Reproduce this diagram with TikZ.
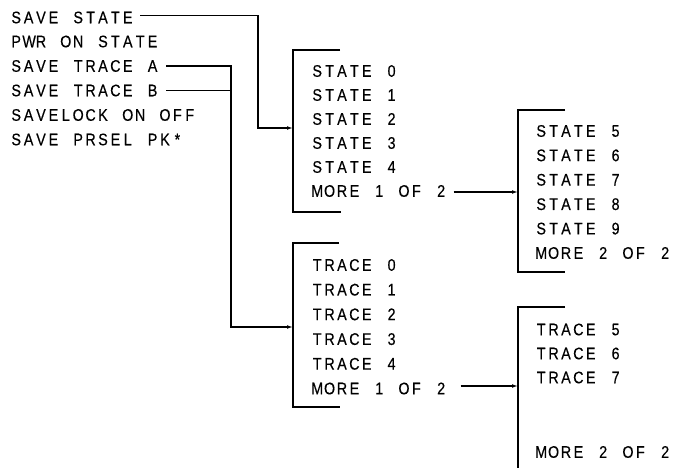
\documentclass[tikz,border=0pt]{standalone}
\usepackage{fontspec}
\setmainfont[FakeBold=0.4]{Liberation Sans}
\usepackage{graphicx}
\usetikzlibrary{arrows.meta}
\newdimen\mpitch
\mpitch=12.4pt
\ExplSyntaxOn
\NewDocumentCommand \mono { m }
  {
    \str_map_inline:nn {#1}
      {
        \tl_if_blank:nTF {##1}
          { \hbox_to_wd:nn {\mpitch} {} }
          { \hbox_to_wd:nn {\mpitch} { \hfil \scalebox{0.85}[1]{##1} \hfil } }
      }
  }
\ExplSyntaxOff
\begin{document}
\begin{tikzpicture}[x=1pt,y=-1pt,
  lbl/.style={anchor=west,inner sep=0pt,font=\fontsize{16.8}{17}\selectfont},
  conn/.style={line width=1.2pt},
  arr/.style={conn,-{Latex[length=6pt,width=3.8pt]}},
  brk/.style={line width=1.3pt}]
\useasboundingbox (0,0) rectangle (678,468);
% left menu
\node[lbl] (ss)  at (9.8,17.5)  {\mono{SAVE STATE}};
\node[lbl] (pw)  at (9.8,41.5)  {\mono{PWR ON STATE}};
\node[lbl] (sta) at (9.8,66)    {\mono{SAVE TRACE A}};
\node[lbl] (stb) at (9.8,90.5)  {\mono{SAVE TRACE B}};
\node[lbl] (sl)  at (9.8,115)   {\mono{SAVELOCK ON OFF}};
\node[lbl] (sp)  at (9.8,139.5) {\mono{SAVE PRSEL PK*}};
% box 1
\node[lbl] (s0) at (310.8,71)  {\mono{STATE 0}};
\node[lbl] (s1) at (310.8,95)  {\mono{STATE 1}};
\node[lbl] (s2) at (310.8,119) {\mono{STATE 2}};
\node[lbl] (s3) at (310.8,143) {\mono{STATE 3}};
\node[lbl] (s4) at (310.8,167) {\mono{STATE 4}};
\node[lbl] (m1) at (310.8,191) {\mono{MORE 1 OF 2}};
% box 2
\node[lbl] (s5) at (534.8,131)   {\mono{STATE 5}};
\node[lbl] (s6) at (534.8,155.4) {\mono{STATE 6}};
\node[lbl] (s7) at (534.8,179.8) {\mono{STATE 7}};
\node[lbl] (s8) at (534.8,204.2) {\mono{STATE 8}};
\node[lbl] (s9) at (534.8,228.6) {\mono{STATE 9}};
\node[lbl] (m2) at (534.8,253)   {\mono{MORE 2 OF 2}};
% box 3
\node[lbl] (t0) at (310.8,265)   {\mono{TRACE 0}};
\node[lbl] (t1) at (310.8,289.7) {\mono{TRACE 1}};
\node[lbl] (t2) at (310.8,314.4) {\mono{TRACE 2}};
\node[lbl] (t3) at (310.8,339.1) {\mono{TRACE 3}};
\node[lbl] (t4) at (310.8,363.8) {\mono{TRACE 4}};
\node[lbl] (m3) at (310.8,388.5) {\mono{MORE 1 OF 2}};
% box 4
\node[lbl] (t5) at (534.8,329.5) {\mono{TRACE 5}};
\node[lbl] (t6) at (534.8,353.5) {\mono{TRACE 6}};
\node[lbl] (t7) at (534.8,377.5) {\mono{TRACE 7}};
\node[lbl] (m4) at (534.8,452)   {\mono{MORE 2 OF 2}};
% brackets
\coordinate (b1t) at (293,50);  \coordinate (b1b) at (293,212);
\coordinate (b2t) at (518,110); \coordinate (b2b) at (518,272);
\coordinate (b3t) at (293,243); \coordinate (b3b) at (293,407);
\coordinate (b4t) at (518,307); \coordinate (b4b) at (518,468);
\draw[brk] ([xshift=47pt]b1t) -- (b1t) -- (b1b) -- ([xshift=48pt]b1b);
\draw[brk] ([xshift=47pt]b2t) -- (b2t) -- (b2b) -- ([xshift=47pt]b2b);
\draw[brk] ([xshift=46pt]b3t) -- (b3t) -- (b3b) -- ([xshift=47pt]b3b);
\draw[brk] ([xshift=47pt]b4t) -- (b4t) -- (b4b);
% connectors
\coordinate (j1) at (258,128);
\coordinate (e1) at (293,128);
\draw[arr] ([xshift=6pt,yshift=2pt]ss.east) -| (j1) -- (e1);
\coordinate (j2) at (231,327);
\coordinate (e3) at (293,327);
\draw[arr] ([xshift=7pt]sta.east) -| (j2) -- (e3);
\draw[conn] ([xshift=7pt]stb.east) -- (stb.east -| j2);
\coordinate (e2) at (518,192);
\draw[arr] ([xshift=6pt,yshift=-1pt]m1.east) -- (e2);
\coordinate (e4) at (518,386);
\draw[arr] ([xshift=13pt,yshift=2.5pt]m3.east) -- (e4);
\end{tikzpicture}
\end{document}
